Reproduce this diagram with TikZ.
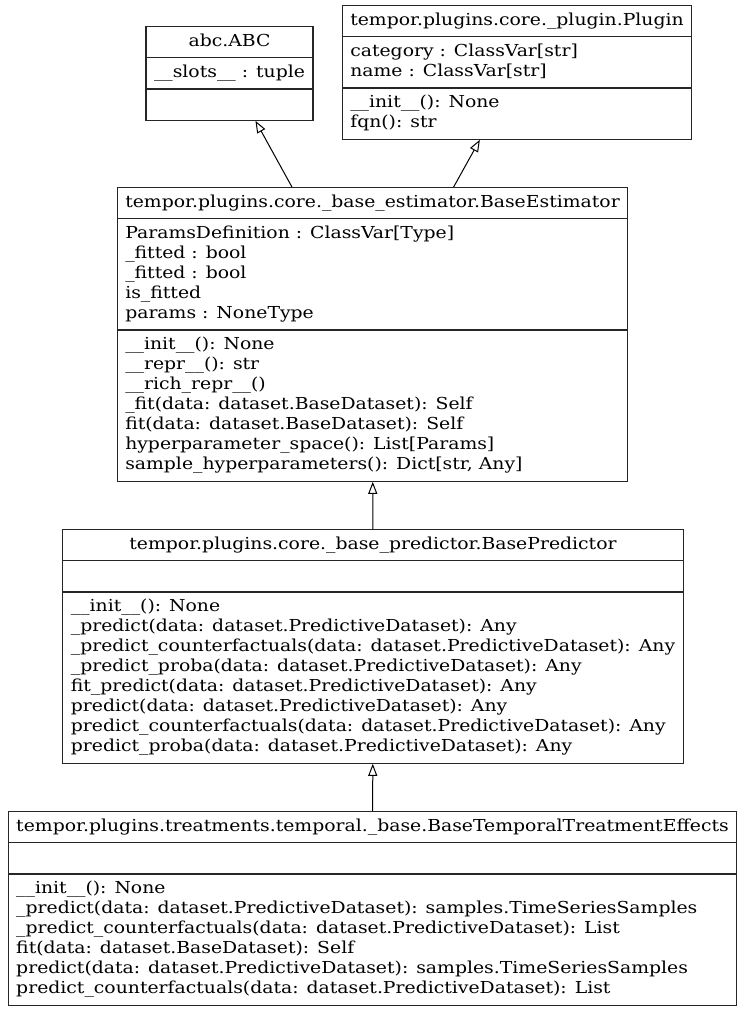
\documentclass[tikz,border=0pt]{standalone}
\usepackage{fontspec}
\setmainfont{DejaVu Serif}[FakeStretch=1.14]
\usepackage{tikz}
\usetikzlibrary{shapes.multipart,arrows.meta}
\tikzset{umlclass/.style={rectangle split, rectangle split parts=3, draw=black!85, line width=1.2pt, inner xsep=8pt, inner ysep=5pt, rectangle split part align={center,left,left}, anchor=north, font=\fontsize{16.5}{20}\selectfont}}
\tikzset{inherit/.style={-{Triangle[open,length=12pt,width=9pt]}, line width=1pt, color=black}}
\newcommand{\members}[1]{\begin{tabular}{@{}l@{}}#1\end{tabular}}

\begin{document}
\begin{tikzpicture}[x=1pt, y=1pt]
		\useasboundingbox (0,0) rectangle (745,-1011);
		\node[umlclass] (abc) at (229.5,-26) {abc.ABC\strut
			\nodepart{two}\members{\_\_slots\_\_ : tuple}
			\nodepart{three}\strut};
		\node[umlclass] (plugin) at (517,-5) {tempor.plugins.core.\_plugin.Plugin\strut
			\nodepart{two}\members{category : ClassVar[str]\\ name : ClassVar[str]}
			\nodepart{three}\members{\_\_init\_\_(): None\\ fqn(): str}};
		\node[umlclass] (estimator) at (372.5,-187) {tempor.plugins.core.\_base\_estimator.BaseEstimator\strut
			\nodepart{two}\members{ParamsDefinition : ClassVar[Type]\\ \_fitted : bool\\ \_fitted : bool\\ is\_fitted\\ params : NoneType}
			\nodepart{three}\members{\_\_init\_\_(): None\\ \_\_repr\_\_(): str\\ \_\_rich\_repr\_\_()\\ \_fit(data: dataset.BaseDataset): Self\\ fit(data: dataset.BaseDataset): Self\\ hyperparameter\_space(): List[Params]\\ sample\_hyperparameters(): Dict[str, Any]}};
		\node[umlclass] (predictor) at (373,-529) {tempor.plugins.core.\_base\_predictor.BasePredictor\strut
			\nodepart{two}\strut
			\nodepart{three}\members{\_\_init\_\_(): None\\ \_predict(data: dataset.PredictiveDataset): Any\\ \_predict\_counterfactuals(data: dataset.PredictiveDataset): Any\\ \_predict\_proba(data: dataset.PredictiveDataset): Any\\ fit\_predict(data: dataset.PredictiveDataset): Any\\ predict(data: dataset.PredictiveDataset): Any\\ predict\_counterfactuals(data: dataset.PredictiveDataset): Any\\ predict\_proba(data: dataset.PredictiveDataset): Any}};
		\node[umlclass] (treatment) at (372.5,-811) {tempor.plugins.treatments.temporal.\_base.BaseTemporalTreatmentEffects\strut
			\nodepart{two}\strut
			\nodepart{three}\members{\_\_init\_\_(): None\\ \_predict(data: dataset.PredictiveDataset): samples.TimeSeriesSamples\\ \_predict\_counterfactuals(data: dataset.PredictiveDataset): List\\ fit(data: dataset.BaseDataset): Self\\ predict(data: dataset.PredictiveDataset): samples.TimeSeriesSamples\\ predict\_counterfactuals(data: dataset.PredictiveDataset): List}};
		% inheritance
		\draw[inherit] (estimator) -- (abc);
		\draw[inherit] (estimator) -- (plugin);
		\draw[inherit] (predictor) -- (estimator);
		\draw[inherit] (treatment) -- (predictor);
	\end{tikzpicture}
\end{document}
